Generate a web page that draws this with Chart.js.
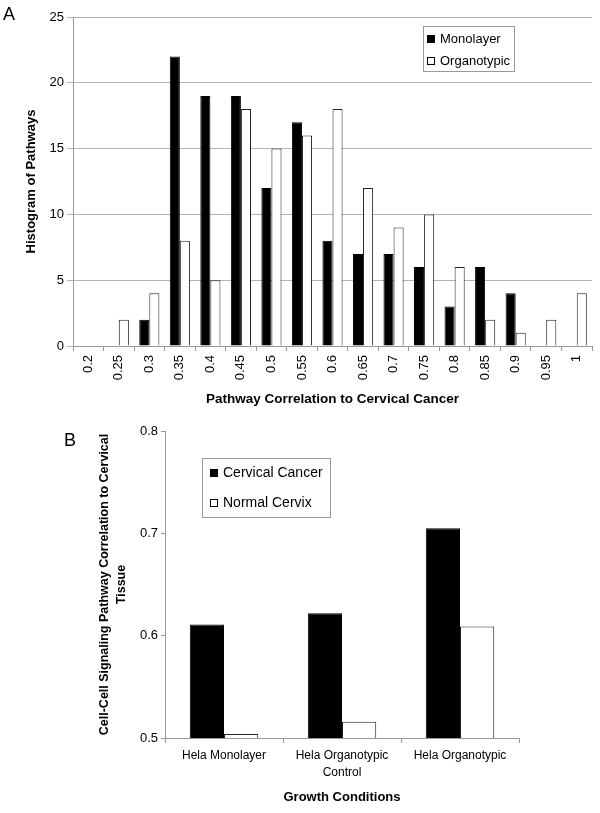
<!DOCTYPE html>
<html>
<head>
<meta charset="utf-8">
<script src="https://cdn.jsdelivr.net/npm/chart.js@4/dist/chart.umd.min.js"></script>
<style>
  body { margin: 0; background: #fff; }
  #page { position: relative; width: 600px; height: 813px; font-family: "Liberation Sans", Arial, sans-serif; }
  .panel { position: absolute; left: 0; width: 600px; }
  .tag { position: absolute; font-size: 18px; color: #000; }
</style>
</head>
<body>
<div id="page">
  <div class="panel" style="top:0;height:410px"><canvas id="hist-chart" width="600" height="410"></canvas></div>
  <div class="panel" style="top:415px;height:398px"><canvas id="growth-chart" width="600" height="398"></canvas></div>
  <div class="tag" style="left:3px;top:4px">A</div>
  <div class="tag" style="left:64px;top:430px">B</div>
</div>
<script>
// Panel A: histogram of pathway correlations
const corrBins = ['0.2', '0.25', '0.3', '0.35', '0.4', '0.45', '0.5', '0.55', '0.6', '0.65', '0.7', '0.75', '0.8', '0.85', '0.9', '0.95', '1'];
const monolayerCounts = [0, 0, 2, 22, 19, 19, 12, 17, 8, 7, 7, 6, 3, 6, 4, 0, 0];
const organotypicCounts = [0, 2, 4, 8, 5, 18, 15, 16, 18, 12, 9, 10, 6, 2, 1, 2, 4];

// Panel B: correlation by growth condition
const growthConditions = ['Hela Monolayer', ['Hela Organotypic', 'Control'], 'Hela Organotypic'];
const cervicalCancer = [0.611, 0.622, 0.705];
const normalCervix = [0.504, 0.516, 0.609];

const FONT = '"Liberation Sans", Arial, sans-serif';

// legend drawn inside a bordered box, like the original figure
const boxLegend = {
    id: 'boxLegend',
    afterDraw(chart, args, opts) {
        const ctx = chart.ctx;
        ctx.save();
        ctx.fillStyle = '#fff';
        ctx.fillRect(opts.x, opts.y, opts.w, opts.h);
        ctx.strokeStyle = '#999';
        ctx.lineWidth = 1;
        ctx.strokeRect(opts.x + 0.5, opts.y + 0.5, opts.w, opts.h);
        ctx.font = opts.fontSize + 'px ' + FONT;
        ctx.textBaseline = 'middle';
        chart.data.datasets.forEach(function (ds, i) {
            const cy = opts.y + opts.first + i * opts.rowH;
            const s = opts.box;
            ctx.fillStyle = ds.backgroundColor;
            ctx.fillRect(opts.x + opts.pad, cy - s / 2, s, s);
            ctx.strokeStyle = '#000';
            ctx.strokeRect(opts.x + opts.pad + 0.5, cy - s / 2 + 0.5, s - 1, s - 1);
            ctx.fillStyle = '#000';
            ctx.fillText(ds.label, opts.x + opts.pad + s + opts.gap, cy);
        });
        ctx.restore();
    }
};

document.addEventListener("DOMContentLoaded", function () {
    const histCanvas = document.getElementById('hist-chart');
    if (histCanvas) {
        new Chart(histCanvas.getContext('2d'), {
            type: 'bar',
            data: {
                labels: corrBins,
                datasets: [{
                    label: 'Monolayer',
                    data: monolayerCounts,
                    backgroundColor: '#000',
                    borderColor: '#000',
                    borderWidth: 1
                }, {
                    label: 'Organotypic',
                    data: organotypicCounts,
                    backgroundColor: '#fff',
                    borderColor: '#222',
                    borderWidth: 1
                }]
            },
            plugins: [boxLegend],
            options: {
                responsive: false,
                animation: false,
                layout: { padding: { top: 17, right: 8, left: 0, bottom: 0 } },
                datasets: { bar: { categoryPercentage: 0.66, barPercentage: 1 } },
                plugins: {
                    legend: { display: false },
                    tooltip: { enabled: false },
                    boxLegend: { x: 423, y: 26, w: 91, h: 45, first: 13, rowH: 22, box: 8, pad: 4, gap: 5, fontSize: 13 }
                },
                scales: {
                    x: {
                        afterFit: function (s) { s.height = 64; },
                        grid: { drawOnChartArea: false, drawTicks: true, tickLength: 5, color: '#999' },
                        border: { color: '#999' },
                        ticks: { color: '#000', font: { family: FONT, size: 13 }, maxRotation: 90, minRotation: 90, padding: 4, autoSkip: false },
                        title: { display: true, text: 'Pathway Correlation to Cervical Cancer', color: '#000', font: { family: FONT, size: 13.5, weight: 'bold' }, padding: { top: 0, bottom: 3 } }
                    },
                    y: {
                        min: 0,
                        max: 25,
                        afterFit: function (s) { s.width = 73; },
                        grid: { color: '#b4b4b4', tickLength: 6 },
                        border: { color: '#999' },
                        ticks: { stepSize: 5, color: '#000', font: { family: FONT, size: 13 }, padding: 3 },
                        title: { display: true, text: 'Histogram of Pathways', color: '#000', font: { family: FONT, size: 13, weight: 'bold' }, padding: { top: 24, bottom: 0 } }
                    }
                }
            }
        });
    } else {
        console.error("Canvas do histograma não encontrado.");
    }

    const growthCanvas = document.getElementById('growth-chart');
    if (growthCanvas) {
        new Chart(growthCanvas.getContext('2d'), {
            type: 'bar',
            data: {
                labels: growthConditions,
                datasets: [{
                    label: 'Cervical Cancer',
                    data: cervicalCancer,
                    backgroundColor: '#000',
                    borderColor: '#000',
                    borderWidth: 1
                }, {
                    label: 'Normal Cervix',
                    data: normalCervix,
                    backgroundColor: '#fff',
                    borderColor: '#222',
                    borderWidth: 1
                }]
            },
            plugins: [boxLegend],
            options: {
                responsive: false,
                animation: false,
                layout: { padding: { top: 16, right: 81, left: 0, bottom: 0 } },
                datasets: { bar: { categoryPercentage: 0.58, barPercentage: 1 } },
                plugins: {
                    legend: { display: false },
                    tooltip: { enabled: false },
                    boxLegend: { x: 202, y: 43, w: 128, h: 59, first: 15, rowH: 30, box: 8, pad: 8, gap: 5, fontSize: 14 }
                },
                scales: {
                    x: {
                        afterFit: function (s) { s.height = 75; },
                        grid: { drawOnChartArea: false, drawTicks: true, tickLength: 5, color: '#999' },
                        border: { color: '#999' },
                        ticks: { color: '#000', font: { family: FONT, size: 12, lineHeight: 1.4 }, maxRotation: 0, padding: 4 },
                        title: { display: true, text: 'Growth Conditions', color: '#000', font: { family: FONT, size: 13, weight: 'bold' }, padding: { top: 0, bottom: 8 } }
                    },
                    y: {
                        min: 0.5,
                        max: 0.8,
                        afterFit: function (s) { s.width = 165; },
                        grid: { drawOnChartArea: false, tickLength: 4, color: '#999' },
                        border: { color: '#999' },
                        ticks: { stepSize: 0.1, color: '#000', font: { family: FONT, size: 13 }, padding: 3 },
                        title: { display: true, text: ['Cell-Cell Signaling Pathway Correlation to Cervical', 'Tissue'], color: '#000', font: { family: FONT, size: 12.5, weight: 'bold', lineHeight: 1.35 }, padding: { top: 96, bottom: 0 } }
                    }
                }
            }
        });
    } else {
        console.error("Canvas das condições de crescimento não encontrado.");
    }
});
</script>
</body>
</html>
